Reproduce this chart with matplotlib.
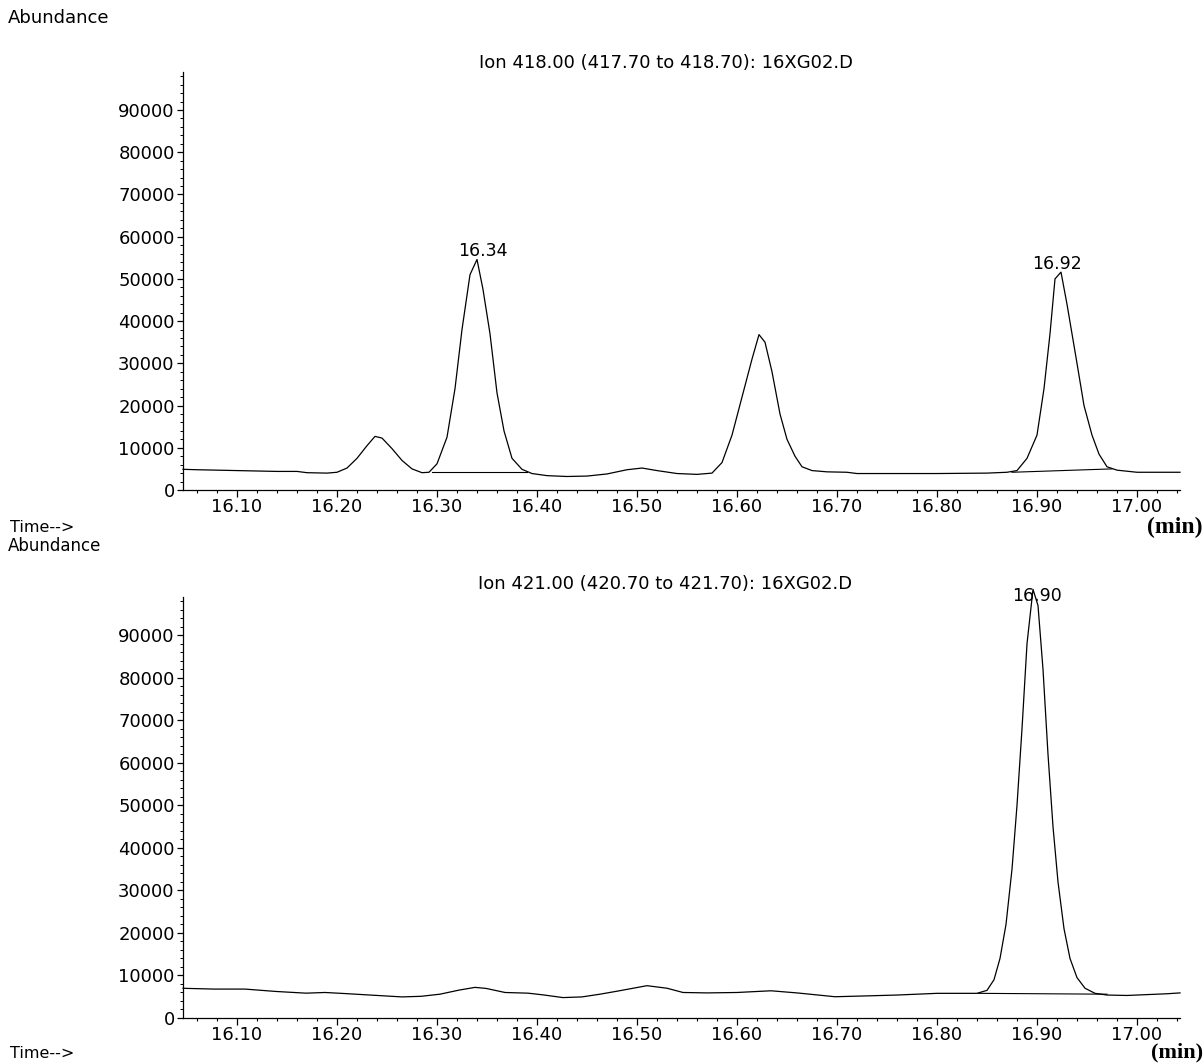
import matplotlib
matplotlib.use("Agg")
import matplotlib.pyplot as plt
from matplotlib.ticker import MultipleLocator, FormatStrFormatter

# ---------------- data ----------------
title_top = "Ion 418.00 (417.70 to 418.70): 16XG02.D"
title_bot = "Ion 421.00 (420.70 to 421.70): 16XG02.D"

t_top = [16.046, 16.06, 16.08, 16.10, 16.12, 16.14, 16.16, 16.17, 16.19, 16.20,
         16.21, 16.22, 16.23, 16.238, 16.245, 16.255, 16.265, 16.275, 16.285, 16.292,
         16.30, 16.31, 16.318, 16.325, 16.333, 16.340, 16.346, 16.353, 16.36, 16.367,
         16.375, 16.385, 16.395, 16.41, 16.43, 16.45, 16.47, 16.49, 16.505, 16.52,
         16.54, 16.56, 16.575, 16.585, 16.595, 16.605, 16.615, 16.622, 16.628, 16.635,
         16.643, 16.65, 16.658, 16.665, 16.675, 16.69, 16.71, 16.72, 16.75, 16.80,
         16.85, 16.87, 16.88, 16.89, 16.90, 16.907, 16.913, 16.918, 16.924, 16.93,
         16.94, 16.947, 16.955, 16.962, 16.97, 16.98, 17.00, 17.02, 17.043]
a_top = [4900, 4800, 4700, 4600, 4500, 4400, 4400, 4100, 4000, 4200,
         5200, 7500, 10500, 12700, 12300, 9800, 7000, 5000, 4100, 4200,
         6200, 12500, 24000, 38000, 51000, 54600, 47500, 37000, 23000, 14000,
         7500, 4900, 3900, 3400, 3200, 3300, 3800, 4800, 5200, 4600,
         3900, 3700, 4000, 6500, 13000, 22000, 31000, 36800, 35000, 28000,
         18000, 12000, 8000, 5500, 4600, 4300, 4200, 3900, 3900, 3900,
         4000, 4200, 4600, 7500, 13000, 24000, 37000, 50000, 51600, 44000,
         30000, 20000, 13000, 8500, 5500, 4700, 4200, 4200, 4200]

t_bot = [16.046, 16.05, 16.077, 16.108, 16.139, 16.169, 16.188, 16.207, 16.23, 16.265,
         16.284, 16.303, 16.322, 16.338, 16.349, 16.368, 16.391, 16.406, 16.426, 16.445,
         16.463, 16.48, 16.51, 16.53, 16.546, 16.57, 16.60, 16.634, 16.66, 16.698,
         16.73, 16.76, 16.80, 16.83, 16.840, 16.850, 16.857, 16.863, 16.869, 16.875,
         16.880, 16.885, 16.890, 16.896, 16.901, 16.906, 16.911, 16.916, 16.921, 16.927,
         16.933, 16.940, 16.948, 16.958, 16.970, 16.99, 17.01, 17.03, 17.043]
a_bot = [7000, 6960, 6800, 6800, 6240, 5840, 6000, 5760, 5440, 4960,
         5100, 5600, 6560, 7200, 6960, 6000, 5840, 5440, 4800, 4960,
         5600, 6300, 7600, 7000, 6000, 5900, 6000, 6400, 5900, 5000,
         5200, 5400, 5800, 5800, 5800, 6500, 9000, 14000, 22000, 35000,
         50000, 68000, 88000, 100800, 97000, 82000, 62000, 45000, 32000, 21000,
         14000, 9500, 7000, 5800, 5400, 5300, 5500, 5700, 5900]

# integration baselines (start/end time, start/end abundance)
base_top_t = [[16.295, 16.39], [16.875, 16.975]]
base_top_a = [[4300, 4300], [4200, 5000]]
base_bot_t = [[16.841, 16.97]]
base_bot_a = [[5800, 5600]]

# peak labels
lab_top_t = [16.346, 16.92]
lab_top_txt = ["16.34", "16.92"]
lab_top_a = [56600, 53500]
lab_bot_t = [16.90]
lab_bot_txt = ["16.90"]
lab_bot_a = [99300]

xlim = (16.046, 17.043)
ylim = (0, 99000)

# ---------------- figure ----------------
W, H = 1204, 1064
fig = plt.figure(figsize=(W / 100, H / 100), dpi=100)
fig.patch.set_facecolor("white")

FONT = "DejaVu Sans"
TICK_FS = 13


def px(x, y):
    return x / W, 1 - y / H


def make_axes(bottom_px, top_px):
    left, right = 183, 1180
    ax = fig.add_axes([left / W, 1 - bottom_px / H, (right - left) / W, (bottom_px - top_px) / H])
    ax.set_xlim(*xlim)
    ax.set_ylim(*ylim)
    for s in ("top", "right"):
        ax.spines[s].set_visible(False)
    for s in ("left", "bottom"):
        ax.spines[s].set_linewidth(0.9)
    ax.xaxis.set_major_locator(MultipleLocator(0.1))
    ax.xaxis.set_minor_locator(MultipleLocator(0.02))
    ax.xaxis.set_major_formatter(FormatStrFormatter("%.2f"))
    ax.yaxis.set_major_locator(MultipleLocator(10000))
    ax.yaxis.set_minor_locator(MultipleLocator(2000))
    ax.yaxis.set_major_formatter(FormatStrFormatter("%d"))
    ax.tick_params(axis="x", which="major", direction="out", length=5, width=0.9, pad=1.0)
    ax.tick_params(axis="x", which="minor", direction="out", length=2.5, width=0.8)
    ax.tick_params(axis="y", which="major", direction="out", length=4, width=0.9, pad=2)
    ax.tick_params(axis="y", which="minor", direction="out", length=2, width=0.7)
    for lab in ax.get_xticklabels() + ax.get_yticklabels():
        lab.set_fontfamily(FONT)
        lab.set_fontsize(TICK_FS)
    return ax


ax1 = make_axes(490, 72)
ax2 = make_axes(1018, 597)

ax1.plot(t_top, a_top, color="black", lw=0.9, clip_on=False)
for bt, ba in zip(base_top_t, base_top_a):
    ax1.plot(bt, ba, color="black", lw=0.8)
for t, txt, a in zip(lab_top_t, lab_top_txt, lab_top_a):
    ax1.text(t, a, txt, ha="center", va="center", fontsize=12.5, family=FONT)
ax1.set_title(title_top, fontsize=13, family=FONT, pad=3, x=0.484)

ax2.plot(t_bot, a_bot, color="black", lw=0.9, clip_on=False)
for bt, ba in zip(base_bot_t, base_bot_a):
    ax2.plot(bt, ba, color="black", lw=0.8)
for t, txt, a in zip(lab_bot_t, lab_bot_txt, lab_bot_a):
    ax2.text(t, a, txt, ha="center", va="center", fontsize=12.5, family=FONT, clip_on=False)
ax2.set_title(title_bot, fontsize=13, family=FONT, pad=6, x=0.484)

# figure-level texts
fig.text(*px(8, 18), "Abundance", ha="left", va="center", fontsize=13, family=FONT)
fig.text(*px(10, 527), "Time-->", ha="left", va="center", fontsize=11.5, family=FONT)
fig.text(*px(8, 546), "Abundance", ha="left", va="center", fontsize=12, family=FONT)
fig.text(*px(10, 1054), "Time-->", ha="left", va="center", fontsize=11.5, family=FONT)
fig.text(*px(1203, 527), "(min)", ha="right", va="center", fontsize=17,
         family="Liberation Serif", fontweight="bold")
fig.text(*px(1203, 1052), "(min)", ha="right", va="center", fontsize=16,
         family="Liberation Serif", fontweight="bold")

fig.savefig("out.png", dpi=100, facecolor="white")
